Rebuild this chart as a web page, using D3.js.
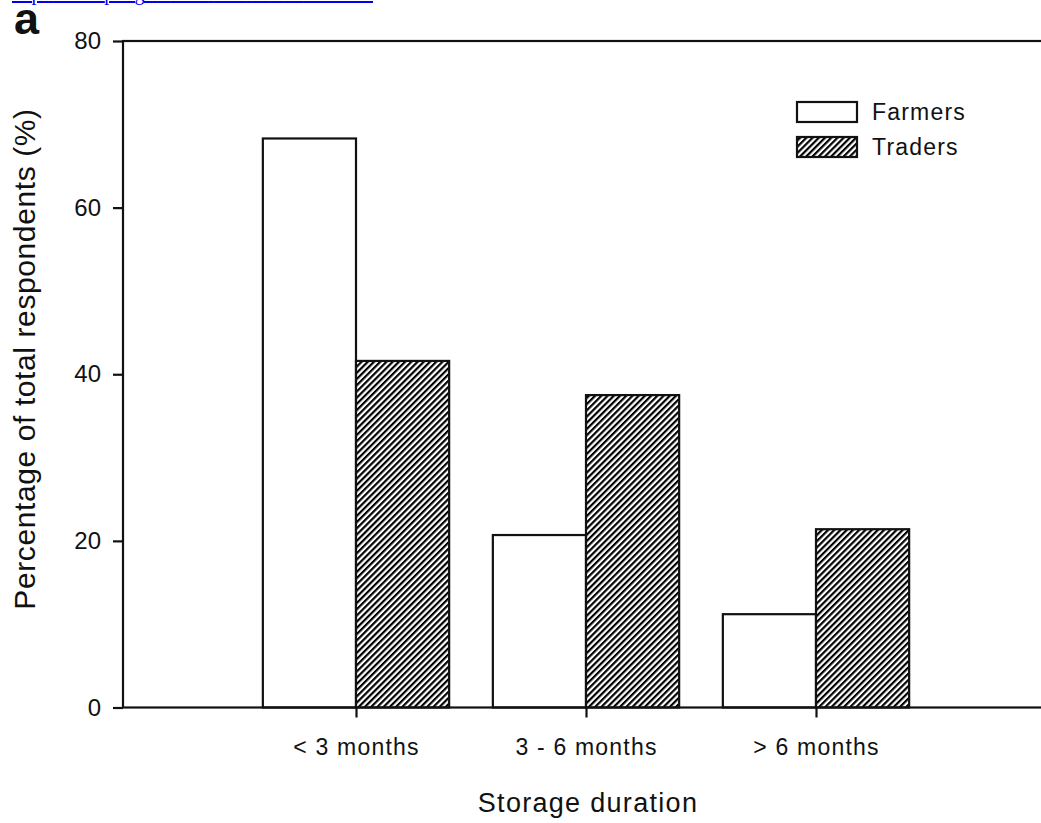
<!DOCTYPE html>
<html>
<head>
<meta charset="utf-8">
<title>Storage duration</title>
<style>
  body { margin: 0; background: #fff; }
  text { font-family: "Liberation Sans", Arial, sans-serif; fill: #111; }
</style>
</head>
<body>
<script src="https://cdn.jsdelivr.net/npm/d3@7/dist/d3.min.js"></script>
<script>
// data
var categories = ["< 3 months", "3 - 6 months", "> 6 months"];
var farmers = [68.3, 20.7, 11.2];
var traders = [41.6, 37.5, 21.4];
var yTicks = [0, 20, 40, 60, 80];
var seriesNames = ["Farmers", "Traders"];

var width = 1041, height = 823;
// plot box (right edge runs just past the picture)
var plotLeft = 123, plotRight = 1046, plotTop = 41, plotBottom = 707.5;

var svg = d3.select("body").append("svg")
  .attr("width", width)
  .attr("height", height);

// hatch for traders
var defs = svg.append("defs");
defs.append("pattern")
  .attr("id", "hatch")
  .attr("patternUnits", "userSpaceOnUse")
  .attr("width", 4.4)
  .attr("height", 4.4)
  .attr("patternTransform", "rotate(45)")
  .call(function (p) {
    p.append("rect").attr("width", 4.4).attr("height", 4.4).attr("fill", "#fff");
    p.append("line").attr("x1", 1.1).attr("y1", 0).attr("x2", 1.1).attr("y2", 4.4)
      .attr("stroke", "#000").attr("stroke-width", 2.2);
  });

// scales
var x = d3.scaleLinear().domain([0, categories.length + 1]).range([126, plotRight]);
var y = d3.scaleLinear().domain([0, 80]).range([plotBottom, plotTop]);
var barW = x(0.405) - x(0);

// clipped link text at the very top
svg.append("text")
  .attr("x", 12).attr("y", 0)
  .attr("textLength", 361)
  .style("font-family", "'Liberation Serif', serif")
  .style("font-size", "20px")
  .style("fill", "#0000ee")
  .style("text-decoration", "underline")
  .text("https://link.springer.com/article/10.1007/s12571");

// panel letter
svg.append("text")
  .attr("x", 14).attr("y", 34)
  .style("font-size", "45px")
  .style("font-weight", "bold")
  .text("a");

// bars
var g = svg.append("g");
g.selectAll(".farm")
  .data(farmers)
  .enter().append("rect")
  .attr("class", "farm")
  .attr("x", function (d, i) { return x(i + 1) - barW; })
  .attr("y", function (d) { return y(d); })
  .attr("width", barW)
  .attr("height", function (d) { return plotBottom - y(d); })
  .attr("fill", "#fff")
  .attr("stroke", "#111")
  .attr("stroke-width", 2.2);

g.selectAll(".trade")
  .data(traders)
  .enter().append("rect")
  .attr("class", "trade")
  .attr("x", function (d, i) { return x(i + 1); })
  .attr("y", function (d) { return y(d); })
  .attr("width", barW)
  .attr("height", function (d) { return plotBottom - y(d); })
  .attr("fill", "url(#hatch)")
  .attr("stroke", "#111")
  .attr("stroke-width", 2.2);

// frame (top + bottom + left)
svg.append("rect")
  .attr("x", plotLeft).attr("y", plotTop)
  .attr("width", plotRight - plotLeft).attr("height", plotBottom - plotTop)
  .attr("fill", "none")
  .attr("stroke", "#111")
  .attr("stroke-width", 2.2);

// y axis
var yAxis = svg.append("g")
  .attr("transform", "translate(" + plotLeft + ",0)")
  .call(d3.axisLeft(y).tickValues(yTicks).tickSize(10).tickPadding(12));
yAxis.select(".domain").remove();
yAxis.selectAll("line").attr("stroke", "#111").attr("stroke-width", 2.2);
yAxis.selectAll("text").style("font-size", "24px").attr("fill", "#111");

// x axis
var xAxis = svg.append("g")
  .attr("transform", "translate(0," + plotBottom + ")")
  .call(d3.axisBottom(x)
    .tickValues(d3.range(1, categories.length + 1))
    .tickFormat(function (d) { return categories[d - 1]; })
    .tickSize(10).tickPadding(21));
xAxis.select(".domain").remove();
xAxis.selectAll("line").attr("stroke", "#111").attr("stroke-width", 2.2);
xAxis.selectAll("text")
  .style("font-size", "23px")
  .style("letter-spacing", "1.2px")
  .attr("fill", "#111");

// axis titles
svg.append("text")
  .attr("x", 588)
  .attr("y", 812)
  .attr("text-anchor", "middle")
  .style("font-size", "27px")
  .style("letter-spacing", "1.3px")
  .text("Storage duration");

svg.append("text")
  .attr("transform", "translate(35,359) rotate(-90)")
  .attr("text-anchor", "middle")
  .style("font-size", "30px")
  .style("letter-spacing", "0.6px")
  .text("Percentage of total respondents (%)");

// legend
var legend = svg.append("g").attr("transform", "translate(797,102)");
seriesNames.forEach(function (name, i) {
  legend.append("rect")
    .attr("x", 0).attr("y", i * 35)
    .attr("width", 60).attr("height", 20)
    .attr("fill", i === 0 ? "#fff" : "url(#hatch)")
    .attr("stroke", "#111")
    .attr("stroke-width", 2.2);
  legend.append("text")
    .attr("x", 75).attr("y", i * 35 + 10)
    .attr("dy", "0.35em")
    .style("font-size", "23px")
    .style("letter-spacing", "1.2px")
    .text(name);
});
</script>
</body>
</html>
